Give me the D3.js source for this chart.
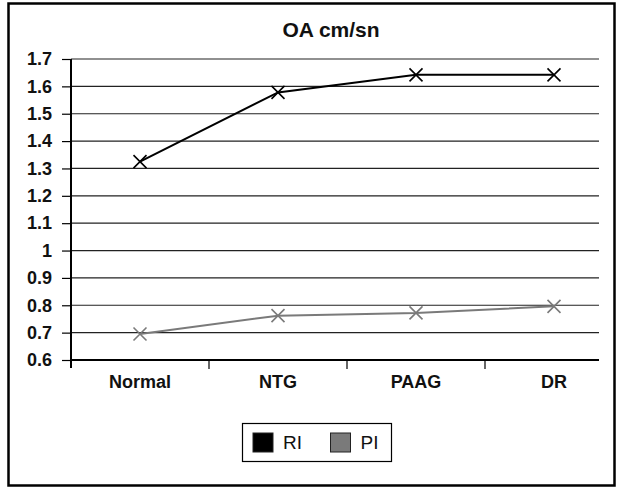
<!DOCTYPE html>
<html lang="en">
<head>
    <meta charset="UTF-8">
    <title>OA cm/sn</title>
    <script src="https://d3js.org/d3.v7.min.js"></script>
    <style>
        body {
            margin: 0;
            background-color: #ffffff;
            font-family: "Liberation Sans", Arial, sans-serif;
        }
        .tick-label {
            font-size: 18px;
            font-weight: bold;
            fill: #111;
        }
        .title {
            font-size: 21px;
            font-weight: bold;
            fill: #111;
        }
        .legend {
            font-size: 19px;
            fill: #111;
        }
    </style>
</head>
<body>
    <svg width="624" height="487"></svg>
    <script>
        // Data
        const categories = ["Normal", "NTG", "PAAG", "DR"];
        const riValues = [1.325, 1.578, 1.642, 1.642];
        const piValues = [0.695, 0.762, 0.772, 0.796];
        const yTicks = [0.6, 0.7, 0.8, 0.9, 1, 1.1, 1.2, 1.3, 1.4, 1.5, 1.6, 1.7];
        const seriesNames = ["RI", "PI"];

        const plotLeft = 71, plotRight = 599, plotTop = 59, plotBottom = 360;

        const svg = d3.select("svg");

        // Outer frame
        svg.append("rect")
           .attr("x", 8.5)
           .attr("y", 3.5)
           .attr("width", 606)
           .attr("height", 482)
           .attr("fill", "#fff")
           .attr("stroke", "#000")
           .attr("stroke-width", 2.5);

        // Scales (last category band is cut off at the right edge of the plot)
        const x = d3.scaleBand()
                    .domain(categories)
                    .range([plotLeft, plotLeft + 4 * 138]);

        const y = d3.scaleLinear()
                    .domain([0.6, 1.7])
                    .range([plotBottom, plotTop]);

        // Title
        svg.append("text")
           .attr("class", "title")
           .attr("x", 331)
           .attr("y", 37)
           .attr("text-anchor", "middle")
           .text("OA cm/sn");

        // Grid lines
        svg.append("g")
           .selectAll("line")
           .data(yTicks.slice(1))
           .enter()
           .append("line")
           .attr("x1", plotLeft)
           .attr("x2", plotRight)
           .attr("y1", d => y(d))
           .attr("y2", d => y(d))
           .attr("stroke", "#222")
           .attr("stroke-width", 1.2);

        // Y axis
        const yAxis = svg.append("g")
                         .attr("transform", `translate(${plotLeft},0)`)
                         .call(d3.axisLeft(y)
                                 .tickValues(yTicks)
                                 .tickSize(9)
                                 .tickPadding(10)
                                 .tickFormat(d => d3.format("")(d)));
        yAxis.select(".domain").remove();
        yAxis.selectAll(".tick line").attr("stroke", "#000").attr("stroke-width", 1.2);
        yAxis.selectAll(".tick text").attr("class", "tick-label");
        yAxis.attr("font-family", null).attr("font-size", null);
        yAxis.append("line")
             .attr("x1", 0).attr("x2", 0)
             .attr("y1", plotTop).attr("y2", plotBottom + 8)
             .attr("stroke", "#000")
             .attr("stroke-width", 2);

        // X axis
        svg.append("line")
           .attr("x1", plotLeft).attr("x2", plotRight)
           .attr("y1", plotBottom).attr("y2", plotBottom)
           .attr("stroke", "#000")
           .attr("stroke-width", 2);

        svg.append("g")
           .selectAll("line")
           .data(categories.slice(1))
           .enter()
           .append("line")
           .attr("x1", d => x(d))
           .attr("x2", d => x(d))
           .attr("y1", plotBottom)
           .attr("y2", plotBottom + 9)
           .attr("stroke", "#000")
           .attr("stroke-width", 1.2);

        svg.append("g")
           .selectAll("text")
           .data(categories)
           .enter()
           .append("text")
           .attr("class", "tick-label")
           .attr("x", d => x(d) + x.bandwidth() / 2)
           .attr("y", 388)
           .attr("text-anchor", "middle")
           .text(d => d);

        // Lines
        const series = [
            {name: "RI", values: riValues, color: "#000"},
            {name: "PI", values: piValues, color: "#7a7a7a"}
        ];

        const line = d3.line()
                       .x((d, i) => x(categories[i]) + x.bandwidth() / 2)
                       .y(d => y(d));

        series.forEach(s => {
            svg.append("path")
               .datum(s.values)
               .attr("d", line)
               .attr("fill", "none")
               .attr("stroke", s.color)
               .attr("stroke-width", 2);

            const r = 6.5;
            const marks = svg.append("g")
                             .selectAll("g")
                             .data(s.values)
                             .enter()
                             .append("g")
                             .attr("transform", (d, i) => `translate(${x(categories[i]) + x.bandwidth() / 2},${y(d)})`);
            marks.append("path")
                 .attr("d", `M${-r},${-r}L${r},${r}M${-r},${r}L${r},${-r}`)
                 .attr("stroke", s.color)
                 .attr("stroke-width", 1.6);
        });

        // Legend
        const legend = svg.append("g");
        legend.append("rect")
              .attr("x", 242.5)
              .attr("y", 423.5)
              .attr("width", 149)
              .attr("height", 38)
              .attr("fill", "#fff")
              .attr("stroke", "#000")
              .attr("stroke-width", 1.2);

        const legendItems = legend.selectAll(".legend-item")
                                  .data(seriesNames)
                                  .enter()
                                  .append("g")
                                  .attr("class", "legend-item")
                                  .attr("transform", (d, i) => `translate(${253 + i * 77.5}, 433)`);

        legendItems.append("rect")
                   .attr("width", 20)
                   .attr("height", 19)
                   .attr("fill", (d, i) => series[i].color)
                   .attr("stroke", "#222")
                   .attr("stroke-width", 1);

        legendItems.append("text")
                   .attr("class", "legend")
                   .attr("x", 30)
                   .attr("y", 16)
                   .text(d => d);
    </script>
</body>
</html>
